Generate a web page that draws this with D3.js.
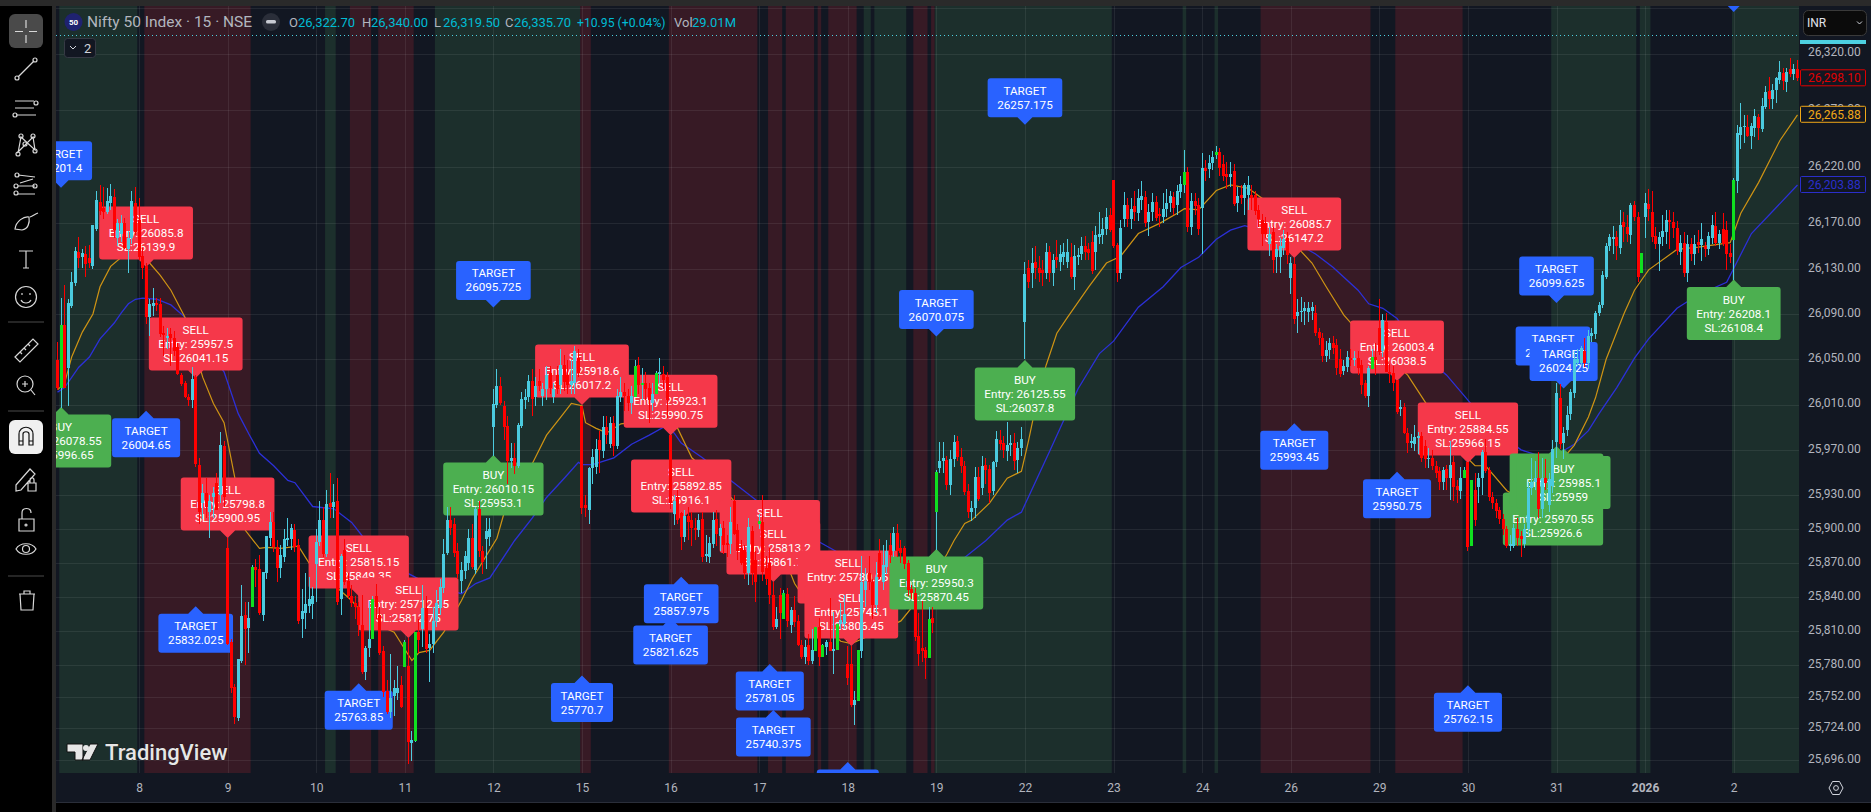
<!DOCTYPE html>
<html><head><meta charset="utf-8">
<script src="https://cdn.jsdelivr.net/npm/d3@7/dist/d3.min.js"></script>
<style>html,body{margin:0;padding:0;background:#000;overflow:hidden}svg{display:block}text{font-family:Roboto,sans-serif}</style>
</head><body><svg id="c" width="1871" height="812"></svg>
<script>
// ---- candles: one list per session, [open, high, low, close]
const dec05=[[26049,26065,26023,26025],[26025,26104,26007,26080],[26080,26116,26025,26025],[26042,26103,26009,26100],[26097,26127,26095,26118],[26117,26149,26115,26146],[26145,26158,26131,26139],[26140,26147,26131,26144],[26143,26150,26123,26134],[26139,26151,26131,26135],[26132,26169,26130,26169],[26165,26199,26163,26191],[26189,26204,26177,26181],[26184,26202,26174,26180],[26180,26201,26178,26190],[26188,26205,26182,26194],[26193,26200,26157,26164],[26157,26174,26150,26170],[26161,26177,26154,26170],[26170,26175,26147,26148],[26147,26163,26126,26157],[26157,26199,26152,26190],[26188,26202,26160,26162]];
const dec08=[[26173,26192,26138,26140],[26141,26148,26121,26131],[26132,26135,26081,26087],[26087,26103,26071,26099],[26097,26113,26088,26100],[26100,26104,26093,26098],[26099,26104,26070,26072],[26073,26079,26053,26072],[26069,26078,26059,26071],[26072,26078,26044,26069],[26069,26075,26053,26057],[26061,26064,26036,26037],[26036,26038,26026,26028],[26029,26031,26016,26017],[26017,26019,26009,26014],[26014,26043,26007,26033],[26034,26036,25955,25957.5],[25957,25963,25905,25915],[25923,25940,25909,25932],[25932,25945,25910,25920],[25915,25930,25892,25925],[25928,25937,25910,25932],[25941,25950,25917,25917],[25930,25986,25923,25974],[25973,25978,25920,25928]];
const dec09=[[25883,25892,25798,25798.8],[25800,25803,25755,25760],[25761,25763,25728,25734],[25733,25785,25731,25785],[25784,25851,25782,25823],[25824,25836,25780,25812],[25813,25836,25791,25822],[25831,25868,25831,25867],[25867,25874,25849,25864],[25865,25877,25824,25826],[25824,25862,25819,25862],[25861,25894,25856,25894],[25892,25915,25885,25906],[25906,25915,25880,25884],[25884,25890,25853,25866],[25866,25886,25857,25877],[25875,25900,25871,25891],[25890,25910,25885,25892],[25891,25905,25882,25901],[25899,25905,25880,25884],[25886,25891,25816,25819],[25821,25847,25804,25828],[25826,25861,25812,25834],[25832,25858,25826,25838],[25834,25849,25821,25841]];
const dec10=[[25869,25900,25836,25889],[25889,25925,25885,25908],[25908,25920,25875,25878],[25878,25935,25875,25922],[25923,25950,25910,25920],[25920,25940,25910,25924],[25925,25945,25833,25836],[25838,25878,25824,25876],[25882,25891,25851,25853],[25854,25861,25838,25841],[25841,25851,25831,25835],[25835,25841,25821,25831],[25831,25836,25806,25815],[25815,25842,25772,25774],[25774,25797,25767,25795],[25795,25837,25787,25803],[25803,25841,25803,25838],[25841,25852,25821,25831],[25824,25831,25789,25791],[25792,25797,25752,25756],[25757,25767,25737,25739],[25739,25790,25733,25751],[25753,25767,25735,25760],[25755,25779,25749,25760],[25762,25770,25742,25743]];
const dec11=[[25778,25802,25778,25800],[25779,25804,25693,25712.25],[25711,25722,25695,25714],[25713,25809,25712,25809],[25809,25821,25791,25802],[25812,25851,25796,25830],[25830,25841,25791,25794],[25795,25807,25765,25799],[25799,25831,25791,25819],[25819,25846,25814,25835],[25830,25856,25824,25849],[25848,25891,25844,25878],[25879,25920,25877,25908],[25908,25920,25895,25901],[25905,25910,25875,25879],[25881,25888,25856,25860],[25854,25871,25844,25864],[25863,25881,25856,25876],[25870,25900,25864,25892],[25892,25905,25865,25867],[25864,25920,25860,25918],[25918,25925,25875,25881],[25881,25885,25860,25871],[25891,25910,25865,25898],[25893,25910,25885,25900]];
const dec12=[[25990,26024,25965,26010.15],[26010,26041,26007,26026],[26026,26034,26010,26011],[26009,26013,25979,25990],[25991,26000,25940,25960],[25960,25976,25954,25963],[25963,25976,25949,25956],[25956,25994,25954,25992],[25991,26021,25989,26015],[26014,26024,26006,26017],[26017,26036,26012,26031],[26031,26041,26000,26015],[26017,26034,26009,26026],[26031,26041,26022,26026],[26018,26029,26009,26024],[26024,26044,26014,26036],[26038,26044,26019,26025],[26017,26029,26011,26024],[26036,26044,26019,26024],[26027,26059,26019,26045],[26045,26054,26022,26030],[26036,26049,26019,26027],[26027,26049,26019,26031],[26029,26062,26019,26057],[26051,26059,26034,26038]];
const dec15=[[26009,26009,25913,25918.6],[25921,25930,25911,25919],[25917,25955,25905,25954],[25954,25971,25940,25964],[25955,25980,25949,25971],[25979,25987,25950,25970],[25969,26000,25963,25990],[25990,26000,25975,25983],[25975,25999,25972,25994],[25994,26000,25965,25973],[25973,26024,25971,26018],[26017,26034,26012,26021],[26021,26029,26004,26018],[26018,26024,26004,26011],[26011,26026,26002,26018],[26017,26049,26017,26044],[26045,26052,26019,26027],[26028,26042,26014,26029],[26029,26039,26014,26024],[26025,26029,25994,26014],[26011,26029,26004,26019],[26019,26040,26019,26038],[26037,26051,26029,26039],[26037,26044,26024,26032],[26034,26039,25998,26014]];
const dec16=[[25983,25983,25918,25923.1],[25913,25930,25904,25925],[25928,25935,25905,25908],[25914,25915,25882,25892.85],[25893,25917,25889,25912],[25912,25920,25890,25906],[25908,25915,25885,25901],[25901,25910,25890,25900],[25899,25913,25893,25908],[25909,25915,25871,25875],[25876,25895,25871,25878],[25875,25893,25870,25888],[25887,25915,25883,25908],[25909,25917,25885,25896],[25894,25905,25881,25901],[25901,25907,25878,25886],[25888,25895,25875,25886],[25887,25920,25878,25906],[25925,25930,25895,25896],[25899,25905,25873,25881],[25883,25890,25868,25870],[25882,25886,25856,25861],[25861,25910,25851,25902],[25898,25903,25851,25861],[25873,25881,25836,25853]];
const dec17=[[25905,25913,25900,25907],[25906,25930,25854,25862],[25866,25876,25851,25856],[25870,25883,25834,25841.85],[25842,25853,25811,25813.2],[25814,25831,25812,25821],[25842,25848,25803,25826],[25821,25846,25821,25844],[25843,25848,25814,25819],[25815,25831,25808,25829],[25829,25841,25814,25818],[25819,25824,25797,25798],[25798,25802,25785,25787],[25787,25802,25781,25796],[25798,25807,25780,25784],[25784,25812,25781,25793],[25792,25814,25792,25814],[25814,25822,25779,25787],[25787,25799,25787,25798],[25796,25802,25789,25800],[25800,25839,25792,25792],[25793,25827,25772,25794],[25793,25817,25793,25816],[25816,25835,25812,25820],[25816,25842,25812,25825]];
const dec18=[[25781,25797,25762,25769],[25781,25797,25743,25745.1],[25745,25757,25727,25749],[25748,25793,25748,25793],[25792,25876,25786,25853],[25846,25866,25831,25854],[25861,25876,25846,25853],[25853,25856,25821,25833],[25833,25871,25826,25858],[25879,25891,25856,25858],[25853,25886,25846,25868],[25867,25890,25860,25881],[25886,25897,25870,25877],[25881,25902,25875,25897],[25897,25905,25875,25881],[25883,25890,25870,25879],[25883,25885,25865,25869],[25870,25873,25841,25846],[25847,25851,25838,25844],[25844,25848,25801,25805],[25806,25826,25779,25790],[25795,25837,25783,25792],[25793,25796,25768,25786],[25786,25831,25786,25821],[25822,25831,25808,25817]];
const dec19=[[25915,25952,25882,25950.3],[25954,25977,25950,25960],[25960,25977,25950,25963],[25961,25965,25935,25939],[25939,25970,25930,25962],[25962,25983,25955,25977],[25978,25982,25960,25964],[25964,25972,25950,25956],[25956,25960,25930,25933],[25934,25940,25910,25915],[25915,25925,25907,25919],[25919,25955,25910,25946],[25946,25955,25925,25927],[25936,25965,25930,25956],[25957,25963,25940,25952],[25953,25957,25923,25932],[25934,25960,25930,25959],[25959,25987,25955,25980],[25979,25988,25970,25975],[25976,25982,25963,25970],[25969,25995,25960,25974],[25974,25983,25965,25976],[25976,25985,25952,25960],[25961,25977,25950,25972],[25972,25990,25965,25980]];
const dec22=[[26083,26136,26050,26125.55],[26131,26138,26113,26118],[26126,26148,26113,26135],[26136,26150,26121,26131],[26131,26141,26118,26126],[26129,26138,26115,26126],[26126,26153,26121,26145],[26145,26150,26118,26126],[26126,26143,26115,26138],[26140,26155,26131,26138],[26136,26151,26128,26143],[26140,26153,26133,26145],[26136,26156,26131,26145],[26140,26153,26121,26123],[26123,26151,26111,26141],[26140,26148,26133,26142],[26143,26158,26138,26150],[26150,26159,26138,26145],[26147,26153,26138,26144],[26154,26163,26125,26128],[26145,26168,26129,26160],[26158,26180,26152,26161],[26160,26175,26152,26165],[26165,26184,26160,26176],[26177,26184,26162,26164]];
const dec23=[[26208,26208,26148,26150],[26151,26153,26118,26126],[26126,26173,26121,26166],[26174,26198,26167,26186],[26186,26192,26167,26174],[26174,26192,26165,26183],[26185,26199,26172,26180],[26179,26200,26172,26192],[26191,26207,26182,26194],[26193,26199,26167,26170],[26171,26187,26159,26180],[26180,26197,26172,26189],[26189,26194,26172,26175],[26178,26184,26167,26177],[26176,26197,26170,26183],[26183,26200,26176,26188],[26188,26199,26180,26194],[26193,26198,26177,26184],[26186,26204,26177,26199],[26198,26212,26192,26205],[26204,26235,26197,26215],[26215,26220,26162,26167],[26167,26197,26160,26190],[26190,26197,26177,26185],[26186,26192,26160,26165]];
const dec24=[[26184,26232,26143,26219],[26219,26226,26207,26216],[26218,26230,26210,26223],[26223,26234,26217,26229],[26230,26238,26227,26233],[26233,26237,26212,26219],[26222,26230,26207,26212],[26214,26224,26200,26211],[26211,26224,26202,26214],[26216,26222,26185,26187],[26188,26202,26180,26194],[26195,26204,26187,26192],[26192,26206,26177,26204],[26195,26212,26182,26204],[26195,26204,26182,26192],[26195,26199,26177,26181],[26182,26186,26167,26174],[26173,26178,26150,26161],[26170,26176,26157,26161],[26152,26167,26141,26161],[26162,26167,26126,26138],[26140,26152,26126,26147],[26140,26157,26126,26150],[26148,26164,26142,26156],[26157,26162,26134,26142]];
const dec26=[[26122,26140,26108,26135],[26134,26139,26081,26085.7],[26088,26103,26073,26092],[26092,26105,26083,26093],[26093,26101,26080,26095],[26092,26101,26083,26095],[26093,26101,26085,26096],[26091,26098,26071,26073],[26074,26078,26063,26069],[26069,26073,26048,26053],[26053,26066,26048,26058],[26058,26069,26050,26064],[26064,26071,26055,26060],[26063,26068,26036,26042],[26050,26059,26034,26037],[26040,26049,26036,26044],[26043,26057,26039,26052],[26051,26059,26044,26050],[26050,26057,26044,26051],[26051,26057,26036,26042],[26045,26049,26019,26027],[26029,26032,26016,26018],[26018,26044,26008,26042],[26041,26059,26041,26052],[26052,26064,26036,26049]];
const dec29=[[26078,26103,26054,26056],[26057,26090,26052,26085],[26083,26091,26039,26039],[26039,26046,26029,26037],[26038,26044,26022,26029],[26032,26032,26002,26003.4],[26006,26014,26000,26008],[26008,26011,25984,25985],[25985,25989,25967,25976],[25976,25984,25972,25978],[25975,25992,25969,25981],[25981,25986,25966,25982],[25982,25986,25959,25963],[25973,25979,25954,25962],[25962,25972,25954,25963],[25963,25970,25952,25956],[25956,25960,25945,25950],[25951,25955,25935,25942],[25942,25955,25935,25952],[25953,25957,25935,25945],[25945,25978,25926,25957],[25959,25965,25925,25937],[25938,25943,25923,25935],[25934,25955,25927,25945],[25945,25955,25945,25952]];
const dec30=[[25959,25959,25881,25884.55],[25885,25943,25885,25943],[25935,25950,25903,25908],[25937,25950,25923,25945],[25945,25970,25930,25968],[25968,25980,25950,25951],[25952,25955,25925,25928],[25928,25933,25918,25923],[25923,25927,25910,25916],[25917,25920,25905,25909],[25909,25913,25895,25900],[25900,25903,25883,25885],[25885,25895,25881,25887],[25885,25905,25883,25901],[25900,25910,25885,25892],[25894,25898,25875,25891],[25887,25905,25883,25900],[25900,25942,25895,25936],[25936,25963,25930,25942],[25942,25960,25935,25945],[25945,25968,25910,25918],[25918,25963,25910,25945],[25945,25962,25935,25941],[25921,25950,25915,25944],[25938,25979,25932,25970.55]];
const dec31=[[25977,26029,25963,26020],[26016,26028,25971,25975],[25976,25990,25962,25985.1],[25988,26009,25982,26001],[26002,26024,25996,26021],[26020,26057,26016,26050],[26047,26059,26044,26050],[26047,26062,26044,26060],[26057,26069,26043,26047],[26047,26076,26041,26071],[26071,26078,26065,26073],[26072,26093,26068,26091],[26091,26101,26088,26098],[26098,26128,26095,26124],[26123,26153,26121,26150],[26150,26161,26146,26158],[26156,26168,26143,26158],[26158,26163,26138,26150],[26148,26182,26143,26169],[26171,26180,26154,26167],[26167,26177,26154,26161],[26160,26188,26152,26186],[26186,26190,26172,26176],[26176,26180,26118,26123],[26126,26144,26126,26144]];
const jan01=[[26176,26197,26157,26188],[26187,26200,26172,26183],[26180,26199,26154,26158],[26159,26167,26147,26152],[26152,26162,26128,26158],[26158,26177,26150,26163],[26162,26182,26152,26173],[26173,26182,26147,26171],[26171,26180,26157,26166],[26166,26172,26142,26146],[26145,26160,26133,26153],[26153,26162,26123,26126],[26126,26160,26118,26152],[26152,26157,26137,26143],[26143,26160,26133,26152],[26154,26164,26144,26151],[26151,26170,26137,26156],[26150,26154,26140,26147],[26147,26162,26142,26159],[26157,26177,26152,26169],[26168,26180,26150,26153],[26153,26164,26147,26161],[26165,26179,26150,26152],[26164,26172,26129,26143],[26144,26152,26135,26140]];
const jan02=[[26155,26210,26120,26208.1],[26207,26257,26197,26250],[26248,26276,26236,26255],[26255,26266,26241,26256],[26255,26266,26246,26247],[26247,26259,26236,26256],[26254,26271,26246,26265],[26264,26267,26244,26254],[26253,26281,26251,26274],[26273,26291,26271,26286],[26287,26299,26271,26280],[26280,26293,26271,26288],[26288,26299,26276,26298],[26297,26313,26293,26304],[26303,26307,26288,26296],[26295,26307,26286,26304],[26306,26316,26299,26302],[26302,26311,26297,26306],[26306,26314,26296,26298.1]];
const sessions=[dec05,dec08,dec09,dec10,dec11,dec12,dec15,dec16,dec17,dec18,dec19,dec22,dec23,dec24,dec26,dec29,dec30,dec31,jan01,jan02];

// bars painted in the bright "strong" green
const greenBars=[1,55,89,98,101,163,165,169,198,205,214,216,220,226,246,248,318,327,371,397,399,447,473];

// moving averages read at bar positions
const goldBars=[0,2,4,7,10,12,15,18,22,26,29,32,36,41,44,47,50,53,57,59,63,68,71,83,88,95,97,100,102,105,109,114,117,124,126,129,134,138,142,145,148,149,152,155,159,167,175,179,186,193,200,207,208,215,221,224,227,232,238,245,251,253,256,258,263,268,272,274,277,279,282,285,291,296,300,305,311,316,318,322,327,331,336,340,345,351,354,358,363,365,373,381,386,393,400,403,409,414,423,428,432,434,437,442,445,447,449,457,463,472,475,480,486,491];
const goldValues=[26023,26029,26052,26074,26090,26114,26132,26140,26142,26135,26124,26111,26087,26034,26011,25994,25946,25899,25883,25884,25883,25885,25870,25837,25819,25809,25799,25784,25791,25793,25809,25837,25856,25892,25914,25934,25958,25983,25999,26011,26009,25994,25989,25985,25993,25996,25989,25963,25943,25917,25885,25860,25852,25819,25801,25799,25803,25810,25819,25846,25878,25890,25905,25908,25923,25945,25951,25978,26023,26045,26073,26087,26114,26135,26141,26161,26170,26179,26183,26182,26199,26204,26201,26192,26173,26145,26135,26114,26089,26082,26058,26036,26012,25978,25956,25956,25934,25925,25956,25974,25999,26016,26050,26090,26111,26120,26129,26147,26149,26153,26179,26206,26243,26265.88];
const blueBars=[0,2,6,9,12,16,18,20,22,24,28,32,36,40,47,51,54,57,61,65,67,72,78,83,86,97,105,114,118,122,129,134,138,143,147,148,151,157,162,167,171,174,176,182,190,197,209,224,238,249,256,262,268,272,280,288,294,298,305,312,317,322,327,331,335,345,351,355,360,367,370,374,378,384,392,398,404,413,421,428,432,435,440,445,449,457,463,471,478,485,491];
const blueValues=[26021,26025,26043,26052,26068,26082,26091,26099,26103,26104,26103,26098,26087,26067,26039,26002,25984,25967,25956,25943,25941,25920,25918,25906,25894,25864,25851,25843,25852,25857,25890,25910,25928,25945,25959,25957,25957,25963,25975,25983,25990,25985,25976,25963,25943,25926,25899,25873,25857,25864,25875,25890,25908,25915,25969,26024,26055,26066,26096,26114,26131,26140,26156,26164,26168,26159,26150,26143,26131,26111,26099,26095,26086,26058,26036,26014,25991,25970,25962,25975,25987,26002,26025,26051,26068,26095,26107,26118,26161,26184,26203.88];

// state of the background per run of bars [first,last]
const greenRuns=[[1,22],[76,78],[107,147],[228,229],[231,239],[248,297],[318,318],[327,327],[422,445],[447,449],[473,492]];
const redRuns=[[25,54],[83,88],[91,100],[148,150],[173,197],[201,204],[206,213],[215,215],[218,225],[242,245],[247,247],[340,370],[378,396]];

// axes
const priceTicks=[26320,26270,26220,26170,26130,26090,26050,26010,25970,25930,25900,25870,25840,25810,25780,25752,25724,25696];
const upperGridPrices=[26360];
const dayBars=[23,48,73,98,123,148,173,198,223,248,273,298,323,348,373,398,423,448,473];
const dayLabels=["8","9","10","11","12","15","16","17","18","19","22","23","24","26","29","30","31","2026","2"];

// signal labels, in drawing order
const labelKinds=["BUY","TARGET_DOWN","SELL","TARGET_UP","SELL","TARGET_UP","SELL","SELL","TARGET_UP","SELL","BUY","TARGET_DOWN","SELL","TARGET_UP","SELL","TARGET_UP","SELL","TARGET_UP","SELL","TARGET_UP","SELL","TARGET_UP","SELL","TARGET_UP","SELL","BUY","TARGET_DOWN","BUY","TARGET_DOWN","SELL","TARGET_UP","SELL","TARGET_UP","SELL","TARGET_UP","BUY","TARGET_DOWN","BUY","TARGET_DOWN","BUY","TARGET_DOWN","BUY","TARGET_DOWN"];
const labelBars=[1,1,25,25,39,39,48,85,85,99,123,123,148,148,173,173,176,176,201,201,202,202,223,223,224,248,248,273,273,349,349,378,378,398,398,422,422,423,423,425,425,473,473];
const labelPrices=[26007.8,26201.4,26131.4,26004.65,26033.4,25832.025,25892.2,25841,25763.85,25803.8,25965.4,26095.725,26009.6,25770.7,25983,25821.625,25908,25857.975,25872.3,25781.05,25853.3,25740.375,25827.7,25694.4,25796.8,25882.4,26070.075,26049.3,26257.175,26139.4,25993.45,26030.8,25950.75,25958.4,25762.15,25939,26037.875,25973.4,26099.625,25971.2,26024.25,26120.4,26356.7];
const labelEntries=["26078.55","","26085.8","","25957.5","","25798.8","25815.15","","25712.25","26010.15","","25918.6","","25923.1","","25892.85","","25841.85","","25813.2","","25780.05","","25745.1","25950.3","","26125.55","","26085.7","","26003.4","","25884.55","","25970.55","","25968.4","","25985.1","","26208.1",""];
const labelStops=["25996.65","26201.4","26139.9","26004.65","26041.15","25832.025","25900.95","25849.35","25763.85","25812.75","25953.1","26095.725","26017.2","25770.7","25990.75","25821.625","25916.1","25857.975","25886.3","25781.05","25861.7","25740.375","25807.7","25694.4","25806.45","25870.45","26070.075","26037.8","26257.175","26147.2","25993.45","26038.5","25950.75","25966.15","25762.15","25926.6","26037.875","25935.3","26099.625","25959","26024.25","26108.4","26356.7"];

const headerLegend=[["O","26,322.70"],["H","26,340.00"],["L","26,319.50"],["C","26,335.70"]];

// ---- layout / style
const L=56,R=1799,T=6,B=773;
const BG="#121722",GREENBG="#1c2f2c",REDBG="#371a25";
const UP="#4bcbdf",DOWN="#ff0000",STRONG="#10e020",GOLD="#cf9414",BLUE="#2c30d8";
const svg=d3.select("#c");
const x=d3.scaleLinear().domain([0,491]).range([57.5,1797.5]);
const y=d3.scaleLinear().domain([26320,25696]).range([53.5,760.2]);

svg.append("rect").attr("width",1871).attr("height",812).attr("fill","#000");
svg.append("rect").attr("x",0).attr("y",0).attr("width",1871).attr("height",6).attr("fill","#2a2a2a");
svg.append("rect").attr("x",52).attr("y",6).attr("width",4).attr("height",806).attr("fill","#2a2a2a");
svg.append("rect").attr("x",L).attr("y",T).attr("width",1871-L).attr("height",802-T).attr("fill",BG);
svg.append("rect").attr("x",L).attr("y",802).attr("width",1871-L).attr("height",1).attr("fill","#2a2e39");
svg.append("defs").append("clipPath").attr("id","plot").append("rect").attr("x",L).attr("y",T).attr("width",R-L).attr("height",B-T);
const plot=svg.append("g").attr("clip-path","url(#plot)");

function runs(data,fill){
  plot.append("g").selectAll("rect").data(data).join("rect")
    .attr("x",d=>x(d[0]-.5)).attr("width",d=>x(d[1]+.5)-x(d[0]-.5)).attr("y",T).attr("height",B-T).attr("fill",fill);
}
runs(greenRuns,GREENBG); runs(redRuns,REDBG);

plot.append("g").selectAll("line").data(upperGridPrices.concat(priceTicks)).join("line")
  .attr("x1",L).attr("x2",R).attr("y1",d=>Math.round(y(d))+.5).attr("y2",d=>Math.round(y(d))+.5)
  .attr("stroke","rgba(255,255,255,.075)");
plot.append("g").selectAll("line").data(dayBars).join("line")
  .attr("y1",T).attr("y2",B).attr("x1",d=>Math.round(x(d))+.5).attr("x2",d=>Math.round(x(d))+.5)
  .attr("stroke","rgba(255,255,255,.075)");

const ln=d3.line().x(d=>x(d[0])).y(d=>y(d[1]));
plot.append("path").attr("d",ln(d3.zip(blueBars,blueValues))).attr("fill","none").attr("stroke",BLUE).attr("stroke-width",1.3);
plot.append("path").attr("d",ln(d3.zip(goldBars,goldValues))).attr("fill","none").attr("stroke",GOLD).attr("stroke-width",1.2);

// labels
const COL={BUY:"#4caf50",SELL:"#f5384a",TARGET_UP:"#2962ff",TARGET_DOWN:"#2962ff"};
const gl=plot.append("g");
labelKinds.forEach((kind,i)=>{
  const isT=kind.startsWith("TARGET");
  const lines=isT?["TARGET",labelStops[i]]:[kind,"Entry: "+labelEntries[i],"SL:"+labelStops[i]];
  const up=kind==="BUY"||kind==="TARGET_UP";
  const cx=x(labelBars[i]),tip=y(labelPrices[i]);
  const g=gl.append("g");
  const path=g.append("path").attr("fill",COL[kind]);
  const texts=g.selectAll("text").data(lines).join("text").text(d=>d)
    .attr("x",cx).attr("text-anchor","middle").attr("fill","#fff").attr("font-size",11.7);
  let w=0; texts.each(function(){w=Math.max(w,this.getComputedTextLength());});
  w+=19;
  const h=lines.length*14+11, a=7.5, r=3;
  const top=up?tip+a:tip-a-h, bot=top+h, lft=cx-w/2, rgt=cx+w/2;
  const dd=up
   ?`M${cx},${tip}L${cx+a},${top}H${rgt-r}Q${rgt},${top} ${rgt},${top+r}V${bot-r}Q${rgt},${bot} ${rgt-r},${bot}H${lft+r}Q${lft},${bot} ${lft},${bot-r}V${top+r}Q${lft},${top} ${lft+r},${top}H${cx-a}Z`
   :`M${cx},${tip}L${cx-a},${bot}H${lft+r}Q${lft},${bot} ${lft},${bot-r}V${top+r}Q${lft},${top} ${lft+r},${top}H${rgt-r}Q${rgt},${top} ${rgt},${top+r}V${bot-r}Q${rgt},${bot} ${rgt-r},${bot}H${cx+a}Z`;
  path.attr("d",dd);
  texts.attr("y",(d,j)=>top+5.5+14*j+11);
  // a box that lies beyond the pane keeps only its visible edge
  if(bot<T+14||top>B-14) texts.remove();
});

// candles, over the labels
const candles=sessions.flat().map((c,i)=>({i,o:c[0],h:c[1],l:c[2],c:c[3]}));
const strong=new Set(greenBars);
const color=d=>d.c>=d.o?(strong.has(d.i)?STRONG:UP):DOWN;
const gc=plot.append("g").attr("shape-rendering","crispEdges");
gc.selectAll(".w").data(candles).join("rect").attr("class","w")
  .attr("x",d=>Math.round(x(d.i)-.5)).attr("width",1)
  .attr("y",d=>y(d.h)).attr("height",d=>Math.max(1,y(d.l)-y(d.h)))
  .attr("fill",d=>d.c>=d.o?UP:DOWN);
gc.selectAll(".b").data(candles).join("rect").attr("class","b")
  .attr("x",d=>Math.round(x(d.i)-1.5)).attr("width",3)
  .attr("y",d=>y(Math.max(d.o,d.c))).attr("height",d=>Math.max(1.5,Math.abs(y(d.o)-y(d.c))))
  .attr("fill",color);

// price line
svg.append("line").attr("x1",L).attr("x2",R).attr("y1",35.5).attr("y2",35.5).attr("stroke","#4dd0e1").attr("stroke-dasharray","1 3");

// axes
const ax=svg.append("g").attr("transform",`translate(${R},0)`).call(d3.axisRight(y).tickValues(priceTicks).tickFormat(d3.format(",.2f")).tickSize(0).tickPadding(9));
ax.select(".domain").remove();
ax.selectAll("text").attr("font-size",12).attr("font-family","Roboto,sans-serif").attr("fill","#b2b5be").attr("dy",".2em");
const bx=svg.append("g").attr("transform","translate(0,780)").call(d3.axisBottom(x).tickValues(dayBars).tickFormat((d,i)=>dayLabels[i]).tickSize(0).tickPadding(3));
bx.select(".domain").remove();
bx.selectAll("text").attr("font-size",12).attr("font-family","Roboto,sans-serif").attr("fill","#b2b5be")
  .attr("font-weight",(d,i)=>dayLabels[i]==="2026"?700:400);

// last-value tags
const tags=[[candles[candles.length-1].c,"#e00000"],[goldValues[goldValues.length-1],"#f0a818"],[blueValues[blueValues.length-1],"#2a2ecb"]];
const tg=svg.append("g").selectAll("g").data(tags).join("g");
tg.append("rect").attr("x",1800.5).attr("width",65).attr("y",d=>y(d[0])-8.5).attr("height",16).attr("rx",1).attr("fill",BG).attr("stroke",d=>d[1]);
tg.append("text").attr("x",1808).attr("y",d=>y(d[0])+4).attr("font-size",12).attr("fill",d=>d[1]).text(d=>d3.format(",.2f")(d[0]));

svg.append("rect").attr("x",1800).attr("y",40).attr("width",66).attr("height",4).attr("fill","#4dd0e1");
svg.append("rect").attr("x",1803.5).attr("y",10.5).attr("width",63).attr("height",25).attr("rx",5).attr("fill","#0b0b0b").attr("stroke","#3a3a3a");
svg.append("text").attr("x",1807).attr("y",27).attr("font-size",12).attr("fill","#e0e3eb").text("INR");
svg.append("path").attr("d","M1857,21.5l2.5,2.5l2.5,-2.5").attr("fill","none").attr("stroke","#d1d4dc");

// legend
svg.append("circle").attr("cx",73.5).attr("cy",22).attr("r",9).attr("fill","#1f2270");
svg.append("text").attr("x",73.5).attr("y",25).attr("text-anchor","middle").attr("font-size",8).attr("font-weight",700).attr("fill","#fff").text("50");
svg.append("text").attr("x",87).attr("y",27).attr("font-size",15.5).attr("fill","#b2b5be").text("Nifty 50 Index · 15 · NSE");
svg.append("circle").attr("cx",271).attr("cy",22).attr("r",9).attr("fill","#2a2e39");
svg.append("rect").attr("x",266).attr("y",20).attr("width",10).attr("height",3.6).attr("rx",1.6).attr("fill","#c8cbd3");
const legX=[289,362,434,505];
headerLegend.forEach((d,i)=>{
  svg.append("text").attr("x",legX[i]).attr("y",27).attr("font-size",13).attr("fill","#b2b5be").text(d[0]);
  svg.append("text").attr("x",legX[i]+9).attr("y",27).attr("font-size",13).attr("fill","#00bcd4").text(d[1]);
});
svg.append("text").attr("x",577).attr("y",27).attr("font-size",12.2).attr("fill","#00bcd4").text("+10.95 (+0.04%)");
svg.append("text").attr("x",674).attr("y",27).attr("font-size",13).attr("fill","#b2b5be").text("Vol");
svg.append("text").attr("x",692).attr("y",27).attr("font-size",13).attr("fill","#00bcd4").text("29.01M");
svg.append("rect").attr("x",64.5).attr("y",38.5).attr("width",31).attr("height",19).attr("rx",3).attr("fill",BG).attr("stroke","#363a45");
svg.append("path").attr("d","M70,46l3,3l3,-3").attr("fill","none").attr("stroke","#d1d4dc");
svg.append("text").attr("x",84).attr("y",53).attr("font-size",13).attr("fill","#d1d4dc").text("2");

// watermark
const wm=svg.append("g");
wm.append("path").attr("d","M67,744H83V760H75V752H67ZM98,744L90,760H82L90,744Z").attr("fill","#e6e6e6").attr("stroke","#111").attr("stroke-width",1);
wm.append("circle").attr("cx",86).attr("cy",748).attr("r",3).attr("fill","#e6e6e6");
wm.append("text").attr("x",105).attr("y",760).attr("font-size",22).attr("font-weight",500).attr("fill","#e6e6e6").attr("stroke","#111").attr("stroke-width",.6).attr("paint-order","stroke").text("TradingView");

// settings icon
svg.append("path").attr("d","M1829,788l3.5,-6.5h7l3.5,6.5l-3.5,6.5h-7Z").attr("fill","none").attr("stroke","#d1d4dc");
svg.append("circle").attr("cx",1836).attr("cy",788).attr("r",2.4).attr("fill","none").attr("stroke","#d1d4dc");

// toolbar
const tb=svg.append("g").attr("fill","none").attr("stroke","#d8d8d8").attr("stroke-width",1.2);
tb.append("rect").attr("x",9).attr("y",14).attr("width",34).attr("height",34).attr("rx",6).attr("fill","#4a4a4a").attr("stroke","none");
tb.append("path").attr("d","M26,20v8M26,35v8M15,31.5h8M29,31.5h8");
tb.append("path").attr("d","M18,77L34,61");
tb.append("circle").attr("cx",17).attr("cy",78).attr("r",2);tb.append("circle").attr("cx",35).attr("cy",60).attr("r",2);
tb.append("path").attr("d","M15,101H34M15,108H34M16,115H36");
tb.append("circle").attr("cx",36).attr("cy",103).attr("r",2);tb.append("circle").attr("cx",15).attr("cy",115).attr("r",2);
tb.append("path").attr("d","M18,153L21,137L35,150L33,137L17,153");
[[18,154],[21,136],[33,136],[35,151],[25,144]].forEach(p=>tb.append("circle").attr("cx",p[0]).attr("cy",p[1]).attr("r",2));
tb.append("path").attr("d","M18,175L35,177M18,186L35,186M18,194H35M20,183L33,179");
[[17,175],[16,186],[35,186],[16,193]].forEach(p=>tb.append("circle").attr("cx",p[0]).attr("cy",p[1]).attr("r",2));
tb.append("path").attr("d","M15,229C16,221 24,216 29,217C30,223 28,229 22,230ZM30,217C33,216 35,214 38,213");
tb.append("path").attr("d","M19,251H33M26,251V268M23,268H29");
tb.append("circle").attr("cx",26).attr("cy",297).attr("r",10.5);
tb.append("path").attr("d","M21,300C23,304 29,304 31,300");
tb.append("path").attr("d","M22,293v2M30,293v2");
[322,411,576].forEach(v=>tb.append("line").attr("x1",8).attr("x2",44).attr("y1",v).attr("y2",v).attr("stroke","#4a4a4a"));
tb.append("path").attr("d","M15,357L33,339L38,344L20,362ZM20,352l2,2M24,348l2,2M28,344l2,2");
tb.append("circle").attr("cx",25).attr("cy",384).attr("r",8);
tb.append("path").attr("d","M25,381v6M22,384h6M31,390l4,5");
tb.append("rect").attr("x",9).attr("y",420).attr("width",34).attr("height",34).attr("rx",6).attr("fill","#f0f0f0").attr("stroke","none");
tb.append("path").attr("d","M19,445V434C19,425 33,425 33,434V445H29V434C29,431 23,431 23,434V445Z").attr("stroke","#111");
tb.append("path").attr("d","M19,441h4M29,441h4").attr("stroke","#111");
tb.append("path").attr("d","M16,485L30,469L35,474L21,490L16,491ZM28,483h8v8h-8ZM30,483v-3c0,-3 4,-3 4,0v3");
tb.append("path").attr("d","M19,519V531H34V519ZM22,519V513C22,507 31,507 31,513");
tb.append("circle").attr("cx",26).attr("cy",525).attr("r",1);
tb.append("path").attr("d","M16,549C20,542 32,542 36,549C32,556 20,556 16,549Z");
tb.append("circle").attr("cx",26).attr("cy",549).attr("r",3.5);
tb.append("path").attr("d","M19,594H35M24,594V591H30V594M20,594L21,610H33L34,594");
</script></body></html>
